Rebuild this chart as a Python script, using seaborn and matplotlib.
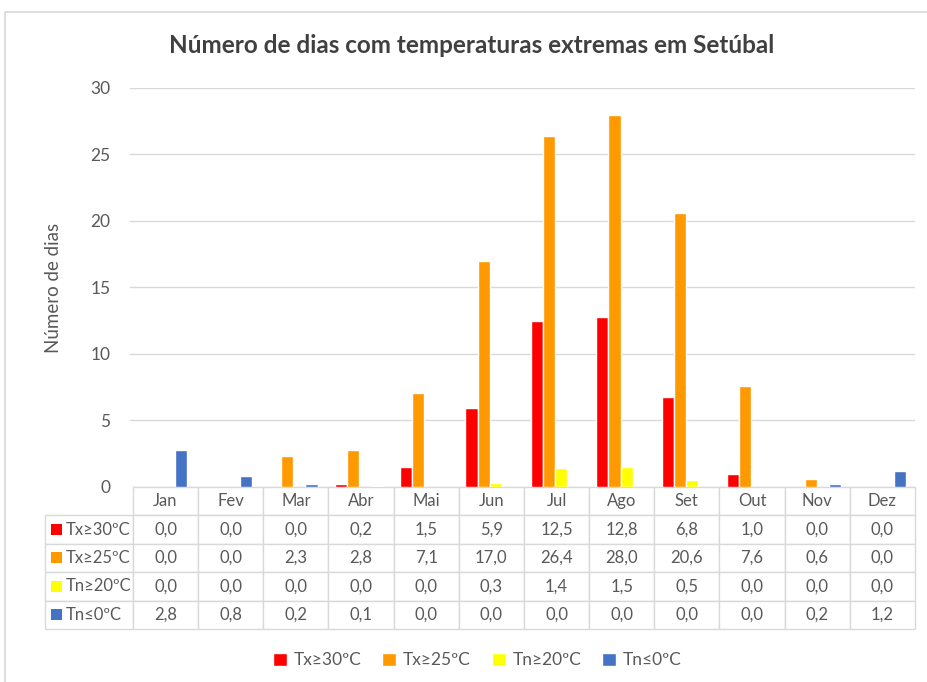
import pandas as pd
import matplotlib
matplotlib.use('Agg')
import matplotlib.pyplot as plt
from matplotlib.patches import Rectangle
import seaborn as sns

# Dados (dias por mês)
meses = ['Jan', 'Fev', 'Mar', 'Abr', 'Mai', 'Jun', 'Jul', 'Ago', 'Set', 'Out', 'Nov', 'Dez']
series = ['Tx≥30ºC', 'Tx≥25ºC', 'Tn≥20ºC', 'Tn≤0ºC']
tx30 = [0.0, 0.0, 0.0, 0.2, 1.5, 5.9, 12.5, 12.8, 6.8, 1.0, 0.0, 0.0]
tx25 = [0.0, 0.0, 2.3, 2.8, 7.1, 17.0, 26.4, 28.0, 20.6, 7.6, 0.6, 0.0]
tn20 = [0.0, 0.0, 0.0, 0.0, 0.0, 0.3, 1.4, 1.5, 0.5, 0.0, 0.0, 0.0]
tn0 = [2.8, 0.8, 0.2, 0.1, 0.0, 0.0, 0.0, 0.0, 0.0, 0.0, 0.2, 1.2]
cores = ['#FF0000', '#FF9900', '#FFFF00', '#4472C4']

valores = [tx30, tx25, tn20, tn0]
df = pd.DataFrame([
    {'Mes': m, 'Serie': s, 'Dias': v[i]}
    for s, v in zip(series, valores) for i, m in enumerate(meses)
])

sns.set_style('white')
plt.rcParams['font.family'] = ['Lato', 'DejaVu Sans']
cinza = '#595959'

fig = plt.figure(figsize=(9.27, 6.82), dpi=100)
ax = fig.add_axes([0.140, 0.286, 0.847, 0.585])

sns.barplot(data=df, x='Mes', y='Dias', hue='Serie', palette=cores,
            width=0.74, saturation=1, ax=ax)

ax.set_ylim(0, 30)
ax.set_yticks(range(0, 31, 5))
ax.yaxis.grid(True, color='#d9d9d9', linewidth=1)
ax.set_axisbelow(True)
ax.tick_params(axis='y', labelsize=12.5, colors=cinza, length=0, pad=14)
ax.tick_params(axis='x', bottom=False, labelbottom=False)
ax.set_xlabel('')
ax.set_ylabel('Número de dias', fontsize=13.5, color=cinza, labelpad=20)
for s in ax.spines.values():
    s.set_visible(False)

handles, labels = ax.get_legend_handles_labels()
ax.get_legend().remove()

# Tabela de dados por baixo do gráfico (1a coluna = rótulos, escritos à parte)
texto = [[''] + [f'{x:.1f}'.replace('.', ',') for x in v] for v in valores]
tbl = ax.table(cellText=texto, colLabels=[''] + meses, cellLoc='center',
               bbox=[-0.108, -0.356, 1.108, 0.356])
tbl.auto_set_font_size(False)
tbl.set_fontsize(12)
for (r, c), cell in tbl.get_celld().items():
    cell.set_edgecolor('#d9d9d9')
    cell.set_linewidth(1)
    cell.get_text().set_color(cinza)
    cell.set_width(88 if c == 0 else 65.2)
    if r == 0 and c == 0:
        cell.set_visible(False)

# quadrado de cor + nome da série em cada linha
alt = 0.356 / 5
qw, qh = 11 / 785, 11 / 399
for i, (s, c) in enumerate(zip(series, cores)):
    y = -(i + 1.5) * alt
    ax.add_patch(Rectangle((-0.100, y - qh / 2), qw, qh, facecolor=c,
                           edgecolor='none', transform=ax.transAxes, clip_on=False))
    ax.text(-0.082, y, s, color=cinza, fontsize=12, va='center', ha='left',
            transform=ax.transAxes)

fig.text(0.509, 0.934, 'Número de dias com temperaturas extremas em Setúbal',
         ha='center', va='center', fontsize=17.5, fontweight='bold', color='#404040')

fig.legend(handles, labels, loc='center', bbox_to_anchor=(0.515, 0.032), ncol=4,
           frameon=False, handlelength=0.8, handleheight=0.8, handletextpad=0.4,
           columnspacing=1.2, fontsize=12.5, labelcolor=cinza)

fig.patches.append(Rectangle((0.0054, -0.01), 1.1, 0.992, transform=fig.transFigure,
                             fill=False, edgecolor='#d9d9d9', linewidth=1.2))

fig.savefig('out.png', dpi=100)
